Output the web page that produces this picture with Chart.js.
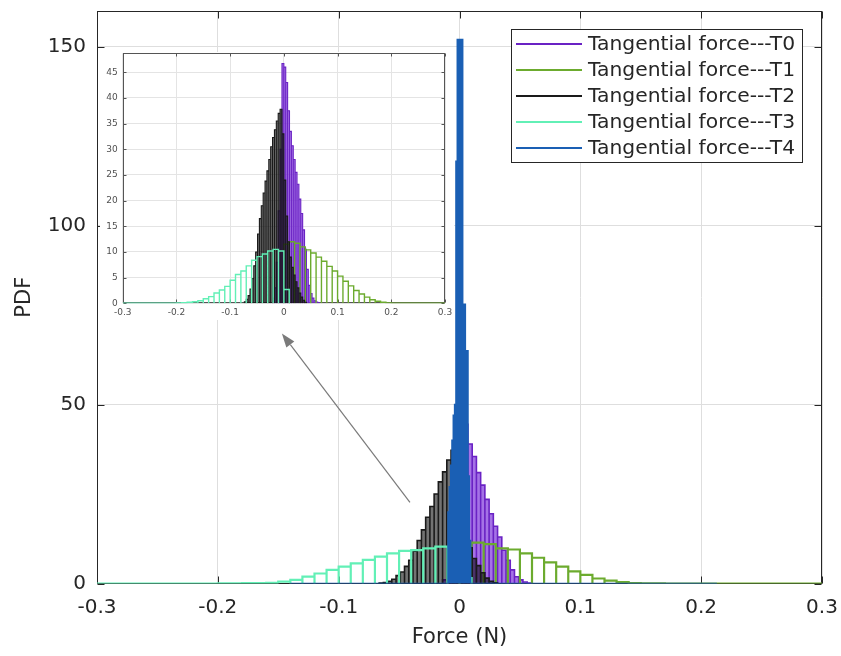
<!DOCTYPE html>
<html><head><meta charset="utf-8">
<script src="https://cdn.jsdelivr.net/npm/chart.js@4/dist/chart.umd.min.js"></script>
<style>
html,body{margin:0;padding:0;background:#fff;}
#wrap{position:relative;width:841px;height:656px;overflow:hidden;}
#main{position:absolute;left:0;top:0;}
#insetBox{position:absolute;left:100px;top:52px;width:354px;height:268px;background:#fff;}
</style></head><body>
<div id="wrap">
<canvas id="main" width="841" height="656"></canvas>
<div id="insetBox"><canvas id="inset" width="354" height="268"></canvas></div>
</div>
<script>
// ---------------- DATA ----------------
const seriesLabels = ['Tangential force---T0','Tangential force---T1','Tangential force---T2','Tangential force---T3','Tangential force---T4'];
const xTicks = [-0.3,-0.2,-0.1,0,0.1,0.2,0.3];
const xTickLabels = ['-0.3','-0.2','-0.1','0','0.1','0.2','0.3'];
const mainYTicks = [0,50,100,150];
const insetYTicks = [0,5,10,15,20,25,30,35,40,45];
const xRange = [-0.3, 0.3];
const mainYMax = 160;
const insetYMax = 48.7;

// Main axes histograms: bin start, bin width, bin heights (PDF), and the range covered by the zero bins
const mainT0Start = -0.014, mainT0Width = 0.0035;
const mainT0 = [1,5,18,38,46,44.5,39,35.5,31,27.5,23.5,19.5,16,13,9.3,6.5,3.8,1.9,1,0.4,0.15];
const mainT1Start = -0.01, mainT1Width = 0.01;
const mainT1 = [6,10.5,11.4,11.0,9.8,9.5,8.4,7.2,5.9,4.7,3.4,2.4,1.4,0.8,0.4,0.1,0.05,0.02];
const mainT1Span = [-0.01, 0.3];
const mainT2Start = -0.0665, mainT2Width = 0.0035;
const mainT2 = [0.1,0.3,0.6,1.2,2.2,3.2,4.8,6.5,9,12,15,18.5,21.5,25,28.4,31.2,34.5,37.2,35,25,15,10,7,5,3,1.5,0.6,0.2];
const mainT3Start = -0.2, mainT3Width = 0.01;
const mainT3 = [0.02,0.05,0.08,0.12,0.2,0.5,1.0,1.9,2.8,3.8,4.7,5.6,6.6,7.5,8.4,9.1,9.3,9.8,10.3,10.2,1.5];
const mainT3Span = [-0.3, 0.01];
const mainT4Start = -0.0095, mainT4Width = 0.0011;
const mainT4 = [20,27,33,40,47,50,118,152,152,152,152,78,78,65,65,30,12];
const mainT4Span = [-0.14, 0.213];

// Inset axes histograms
const insetT0Start = -0.021, insetT0Width = 0.0035;
const insetT0 = [1,3,8,18,30,46.7,46,43,37.5,33.5,30.7,28,25.5,23.2,20.3,17.5,14.3,10.5,6.6,3.5,1.9,1.0,0.5,0.25,0.1];
const insetT1Start = 0, insetT1Width = 0.01;
const insetT1 = [11.5,12,11.7,11,10.4,9.8,9,8.2,7.2,6.3,5.3,4.3,3.4,2.5,1.8,1.2,0.7,0.4,0.2,0.08];
const insetT1Span = [0, 0.3];
const insetT2Start = -0.0735, insetT2Width = 0.0035;
const insetT2 = [0.3,0.8,1.5,2.8,4.8,7.3,10,13.5,16.5,19,21.5,23.8,25.8,28,30.5,32.3,33.8,35.5,37,37.8,33,24,17,12,9,7,5.5,4.2,3,2,1.2,0.6,0.2];
const insetT3Start = -0.2, insetT3Width = 0.01;
const insetT3 = [0.05,0.1,0.2,0.3,0.5,0.9,1.3,2,2.6,3.3,4.5,5.6,6.3,7.3,8.4,9.1,9.6,10.2,10.5,10.2,2.7];
const insetT3Span = [-0.3, 0.01];

// Arrow annotation (data coordinates of main axes)
const arrowTail = [-0.041, 22.7];
const arrowHead = [-0.147, 69.9];

// ---------------- STYLE ----------------
const FONT = 'DejaVu Sans';
const TXT = '#262626';
const lineColors = ['#6a22c4','#6cab2e','#1a1a1a','#62f0b6','#1a5fb4'];
const fillColors = ['rgba(130,60,220,0.72)', null, 'rgba(0,0,0,0.55)', null, 'rgba(20,92,185,0.95)'];

// ---------------- HELPERS ----------------
function binEdges(start, width, count) {
  const e = [];
  for (let i = 0; i <= count; i++) e.push(+(start + i * width).toFixed(6));
  return e;
}
function outline(start, width, heights, span) {
  const e = binEdges(start, width, heights.length);
  const pts = [];
  if (span && span[0] < e[0]) pts.push({x: span[0], y: 0});
  heights.forEach((h, i) => {
    pts.push({x: e[i], y: 0}, {x: e[i], y: h}, {x: e[i + 1], y: h}, {x: e[i + 1], y: 0});
  });
  if (span && span[1] > e[e.length - 1]) pts.push({x: span[1], y: 0});
  return pts;
}
function ds(idx, pts, bw) {
  return {
    label: seriesLabels[idx],
    data: pts,
    borderColor: lineColors[idx],
    backgroundColor: fillColors[idx] || 'rgba(0,0,0,0)',
    fill: fillColors[idx] ? 'origin' : false,
    borderWidth: bw,
    pointRadius: 0,
    tension: 0,
    borderJoinStyle: 'miter',
    order: 10 - idx
  };
}
function noPad(size, key) {
  return s => { s[key] = size; s.paddingLeft = 0; s.paddingRight = 0; s.paddingTop = 0; s.paddingBottom = 0; };
}

const framePlugin = {
  id: 'frame',
  beforeDatasetsDraw(chart, args, o) {
    const {ctx, chartArea: a} = chart;
    const xs = chart.scales.x, ys = chart.scales.y;
    const L = Math.round(a.left) + 0.5, R = Math.round(a.right) - 0.5, T = Math.round(a.top) + 0.5, B = Math.round(a.bottom) - 0.5;
    ctx.save();
    ctx.strokeStyle = o.color; ctx.lineWidth = 1;
    ctx.strokeRect(L, T, R - L, B - T);
    ctx.beginPath();
    xs.ticks.forEach(t => {
      const p = Math.round(xs.getPixelForValue(t.value)) + 0.5;
      ctx.moveTo(p, B); ctx.lineTo(p, B - o.len);
      ctx.moveTo(p, T); ctx.lineTo(p, T + o.len);
    });
    ys.ticks.forEach(t => {
      const p = Math.round(ys.getPixelForValue(t.value)) + 0.5;
      ctx.moveTo(L, p); ctx.lineTo(L + o.len, p);
      ctx.moveTo(R, p); ctx.lineTo(R - o.len, p);
    });
    ctx.stroke();
    ctx.restore();
  }
};

const arrowPlugin = {
  id: 'arrow',
  afterDatasetsDraw(chart, args, o) {
    if (!o.show) return;
    const {ctx} = chart;
    const xs = chart.scales.x, ys = chart.scales.y;
    const x1 = xs.getPixelForValue(arrowTail[0]), y1 = ys.getPixelForValue(arrowTail[1]);
    const x2 = xs.getPixelForValue(arrowHead[0]), y2 = ys.getPixelForValue(arrowHead[1]);
    const ang = Math.atan2(y2 - y1, x2 - x1);
    const hl = 14, hw = 5;
    const bx = x2 - hl * Math.cos(ang), by = y2 - hl * Math.sin(ang);
    ctx.save();
    ctx.strokeStyle = '#7a7a7a'; ctx.fillStyle = '#7a7a7a'; ctx.lineWidth = 1.2;
    ctx.beginPath(); ctx.moveTo(x1, y1); ctx.lineTo(bx, by); ctx.stroke();
    ctx.beginPath();
    ctx.moveTo(x2, y2);
    ctx.lineTo(bx + hw * Math.sin(ang), by - hw * Math.cos(ang));
    ctx.lineTo(bx - hw * Math.sin(ang), by + hw * Math.cos(ang));
    ctx.closePath(); ctx.fill();
    ctx.restore();
  }
};

const legendPlugin = {
  id: 'boxLegend',
  afterDraw(chart, args, o) {
    if (!o.show) return;
    const {ctx} = chart;
    ctx.save();
    ctx.fillStyle = '#fff';
    ctx.fillRect(o.x, o.y, o.w, o.h);
    ctx.strokeStyle = TXT; ctx.lineWidth = 1;
    ctx.strokeRect(o.x + 0.5, o.y + 0.5, o.w, o.h);
    ctx.font = o.font + 'px "' + FONT + '"';
    ctx.textBaseline = 'middle';
    ctx.textAlign = 'left';
    chart.data.datasets.forEach((d, i) => {
      const cy = o.y + o.first + i * o.step;
      ctx.strokeStyle = d.borderColor; ctx.lineWidth = 2.2;
      ctx.beginPath(); ctx.moveTo(o.x + 5, cy); ctx.lineTo(o.x + 71, cy); ctx.stroke();
      ctx.fillStyle = TXT;
      ctx.fillText(d.label, o.x + 77, cy + 1);
    });
    ctx.restore();
  }
};

function ticksFrom(arr) { return scale => { scale.ticks = arr.map(v => ({value: v})); }; }
function xLabel(value) { const i = xTicks.findIndex(t => Math.abs(t - value) < 1e-9); return i >= 0 ? xTickLabels[i] : ''; }

// ---------------- MAIN CHART ----------------
new Chart(document.getElementById('main'), {
  type: 'line',
  data: {
    datasets: [
      ds(0, outline(mainT0Start, mainT0Width, mainT0), 1.6),
      ds(1, outline(mainT1Start, mainT1Width, mainT1, mainT1Span), 2.2),
      ds(2, outline(mainT2Start, mainT2Width, mainT2), 1.6),
      ds(3, outline(mainT3Start, mainT3Width, mainT3, mainT3Span), 2.2),
      ds(4, outline(mainT4Start, mainT4Width, mainT4, mainT4Span), 1.6)
    ]
  },
  options: {
    responsive: false, animation: false, events: [],
    layout: {padding: {left: 0, right: 19, top: 11, bottom: 0}},
    plugins: {
      legend: {display: false}, tooltip: {enabled: false},
      frame: {color: TXT, len: 7},
      arrow: {show: true},
      boxLegend: {show: true, x: 511, y: 29, w: 291, h: 133, first: 15, step: 26, font: 20.3}
    },
    scales: {
      x: {
        type: 'linear', min: xRange[0], max: xRange[1],
        afterBuildTicks: ticksFrom(xTicks),
        afterFit: noPad(72.5, 'height'),
        grid: {color: '#dedede', lineWidth: 1, drawTicks: false},
        border: {display: false},
        ticks: {color: TXT, font: {family: FONT, size: 20}, padding: 12, maxRotation: 0, callback: v => xLabel(v)},
        title: {display: true, text: 'Force (N)', color: TXT, font: {family: FONT, size: 21}, padding: {top: 0, bottom: 6}}
      },
      y: {
        type: 'linear', min: 0, max: mainYMax,
        afterBuildTicks: ticksFrom(mainYTicks),
        afterFit: noPad(97, 'width'),
        grid: {color: '#dedede', lineWidth: 1, drawTicks: false},
        border: {display: false},
        ticks: {color: TXT, font: {family: FONT, size: 20}, padding: 11, callback: v => String(v)},
        title: {display: true, text: 'PDF', color: TXT, font: {family: FONT, size: 21}, padding: {top: 12, bottom: 0}}
      }
    }
  },
  plugins: [framePlugin, arrowPlugin, legendPlugin]
});

// ---------------- INSET CHART ----------------
new Chart(document.getElementById('inset'), {
  type: 'line',
  data: {
    datasets: [
      ds(0, outline(insetT0Start, insetT0Width, insetT0), 1.1),
      ds(1, outline(insetT1Start, insetT1Width, insetT1, insetT1Span), 1.4),
      ds(2, outline(insetT2Start, insetT2Width, insetT2), 1.1),
      ds(3, outline(insetT3Start, insetT3Width, insetT3, insetT3Span), 1.4)
    ]
  },
  options: {
    responsive: false, animation: false, events: [],
    layout: {padding: {left: 0, right: 9, top: 1.3, bottom: 0}},
    plugins: {
      legend: {display: false}, tooltip: {enabled: false},
      frame: {color: '#555555', len: 3},
      arrow: {show: false},
      boxLegend: {show: false}
    },
    scales: {
      x: {
        type: 'linear', min: xRange[0], max: xRange[1],
        afterBuildTicks: ticksFrom(xTicks),
        afterFit: noPad(16.7, 'height'),
        grid: {color: '#e4e4e4', lineWidth: 1, drawTicks: false},
        border: {display: false},
        ticks: {color: '#505050', font: {family: FONT, size: 9}, padding: 4, maxRotation: 0, callback: v => xLabel(v)},
        title: {display: false}
      },
      y: {
        type: 'linear', min: 0, max: insetYMax,
        afterBuildTicks: ticksFrom(insetYTicks),
        afterFit: noPad(22.7, 'width'),
        grid: {color: '#e4e4e4', lineWidth: 1, drawTicks: false},
        border: {display: false},
        ticks: {color: '#505050', font: {family: FONT, size: 9}, padding: 5, callback: v => String(v)},
        title: {display: false}
      }
    }
  },
  plugins: [framePlugin, arrowPlugin, legendPlugin]
});
</script>
</body></html>
